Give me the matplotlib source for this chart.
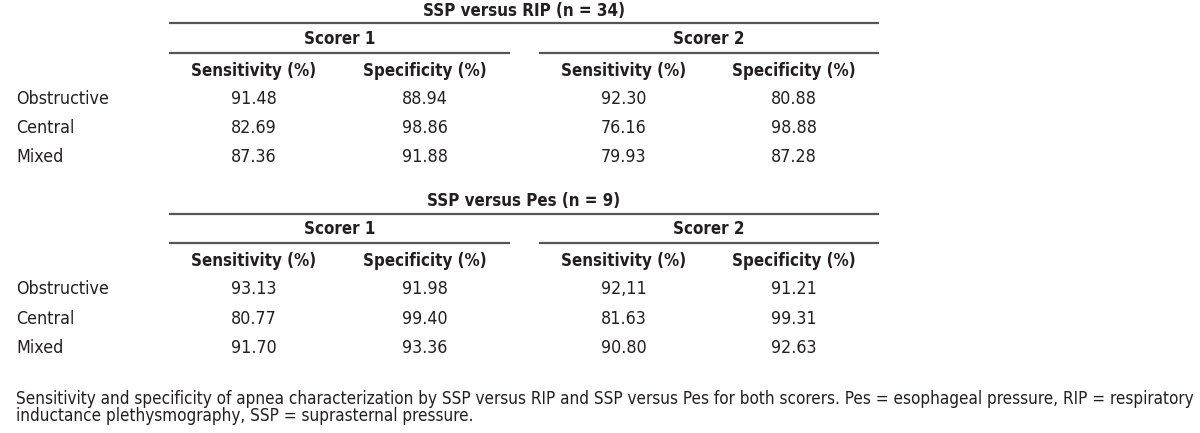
import matplotlib
matplotlib.use("Agg")
import matplotlib.pyplot as plt
from matplotlib import font_manager

# table values
apnea_types = ["Obstructive", "Central", "Mixed"]
scorers = ["Scorer 1", "Scorer 2"]
measures = ["Sensitivity (%)", "Specificity (%)"]

rip_title = "SSP versus RIP (n = 34)"
rip_s1_sens = ["91.48", "82.69", "87.36"]
rip_s1_spec = ["88.94", "98.86", "91.88"]
rip_s2_sens = ["92.30", "76.16", "79.93"]
rip_s2_spec = ["80.88", "98.88", "87.28"]

pes_title = "SSP versus Pes (n = 9)"
pes_s1_sens = ["93.13", "80.77", "91.70"]
pes_s1_spec = ["91.98", "99.40", "93.36"]
pes_s2_sens = ["92,11", "81.63", "90.80"]
pes_s2_spec = ["91.21", "99.31", "92.63"]

caption_lines = [
    "Sensitivity and specificity of apnea characterization by SSP versus RIP and SSP versus Pes "
    "for both scorers. Pes = esophageal pressure, RIP = respiratory",
    "inductance plethysmography, SSP = suprasternal pressure.",
]

names = {f.name for f in font_manager.fontManager.ttflist}
if "Liberation Sans Narrow" in names:
    plt.rcParams["font.family"] = ["Liberation Sans Narrow", "DejaVu Sans"]
else:
    plt.rcParams["font.family"] = ["DejaVu Sans"]
    plt.rcParams["font.stretch"] = "condensed"

txt = "#231f20"
rule = "#555555"
fs = 12.8      # body text
fs_b = 12.2    # bold headings
fs_cap = 12.25  # caption

fig = plt.figure(figsize=(12, 4.33), dpi=100)
ax = fig.add_axes([0, 0, 1, 1])
ax.set_xlim(0, 1200)
ax.set_ylim(433, 0)
ax.axis("off")

col_x = [254, 425, 624, 794]
scorer_span = [(169, 510), (539, 879)]
label_x = 16


def block(y0, title, cols):
    ax.text(524, y0, title, ha="center", va="center", fontsize=fs_b, weight="bold", color=txt)
    ax.hlines(y0 + 12.5, 169, 879, color=rule, lw=1.6)
    for (a, b), name in zip(scorer_span, scorers):
        ax.text((a + b) / 2, y0 + 28, name, ha="center", va="center", fontsize=fs_b, weight="bold", color=txt)
        ax.hlines(y0 + 42, a, b, color=rule, lw=1.6)
    for i, x in enumerate(col_x):
        ax.text(x, y0 + 60, measures[i % 2], ha="center", va="center", fontsize=fs_b, weight="bold", color=txt)
    for r, lab in enumerate(apnea_types):
        y = y0 + 88 + 29.5 * r
        ax.text(label_x, y, lab, ha="left", va="center", fontsize=fs, color=txt)
        for x, vals in zip(col_x, cols):
            ax.text(x, y, vals[r], ha="center", va="center", fontsize=fs, color=txt)


block(10.5, rip_title, [rip_s1_sens, rip_s1_spec, rip_s2_sens, rip_s2_spec])
block(201, pes_title, [pes_s1_sens, pes_s1_spec, pes_s2_sens, pes_s2_spec])

for k, line in enumerate(caption_lines):
    ax.text(label_x, 404 + 17 * k, line, ha="left", va="baseline", fontsize=fs_cap, color=txt)

fig.savefig("out.png", dpi=100)
